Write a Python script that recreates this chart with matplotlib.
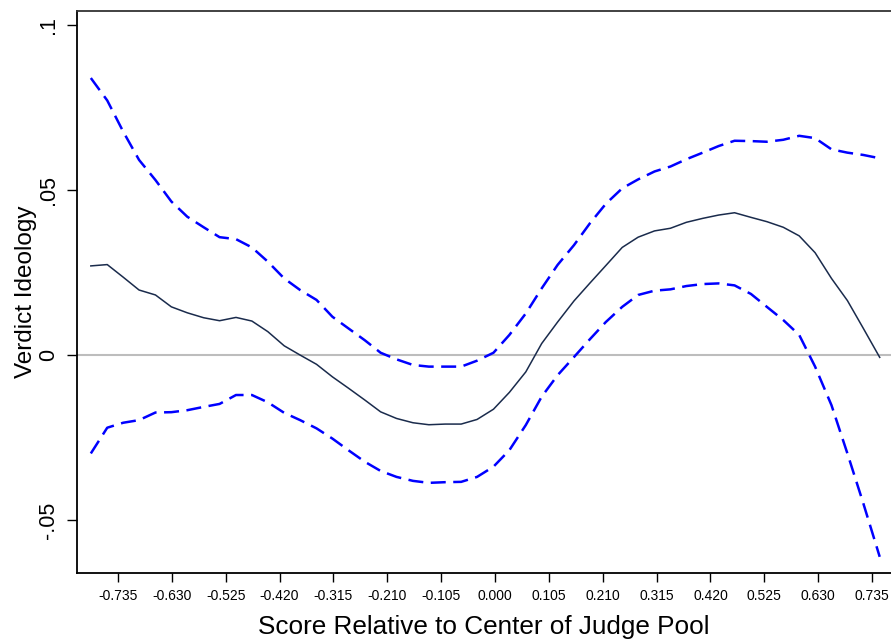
import matplotlib.pyplot as plt

plt.rcParams['font.family'] = ['Liberation Sans', 'DejaVu Sans']

# score grid and estimated effect with its 95% band
score = [-0.788, -0.756, -0.725, -0.694, -0.662, -0.631, -0.600, -0.568, -0.537, -0.505,
         -0.474, -0.443, -0.411, -0.380, -0.348, -0.317, -0.286, -0.254, -0.223, -0.192,
         -0.160, -0.129, -0.097, -0.066, -0.035, -0.003, 0.028, 0.060, 0.091, 0.122,
         0.154, 0.185, 0.216, 0.248, 0.279, 0.311, 0.342, 0.373, 0.405, 0.436,
         0.467, 0.499, 0.530, 0.562, 0.593, 0.624, 0.656, 0.687, 0.718, 0.750]

estimate = [0.0270, 0.0274, 0.0236, 0.0197, 0.0182, 0.0146, 0.0128, 0.0113, 0.0104, 0.0114,
            0.0103, 0.0071, 0.0028, 0.0000, -0.0028, -0.0066, -0.0100, -0.0136, -0.0172, -0.0192,
            -0.0205, -0.0211, -0.0209, -0.0209, -0.0195, -0.0164, -0.0113, -0.0051, 0.0035, 0.0100,
            0.0164, 0.0218, 0.0271, 0.0326, 0.0357, 0.0376, 0.0384, 0.0402, 0.0414, 0.0424,
            0.0431, 0.0417, 0.0404, 0.0387, 0.0361, 0.0310, 0.0232, 0.0165, 0.0081, -0.0007]

upper = [0.0839, 0.0771, 0.0677, 0.0591, 0.0530, 0.0465, 0.0419, 0.0387, 0.0357, 0.0351,
         0.0326, 0.0283, 0.0232, 0.0197, 0.0167, 0.0116, 0.0081, 0.0045, 0.0007, -0.0013,
         -0.0030, -0.0035, -0.0035, -0.0035, -0.0017, 0.0007, 0.0061, 0.0126, 0.0202, 0.0273,
         0.0333, 0.0399, 0.0458, 0.0505, 0.0532, 0.0556, 0.0571, 0.0593, 0.0613, 0.0633,
         0.0649, 0.0648, 0.0646, 0.0652, 0.0664, 0.0657, 0.0623, 0.0613, 0.0606, 0.0596]

lower = [-0.0298, -0.0220, -0.0205, -0.0197, -0.0174, -0.0173, -0.0167, -0.0157, -0.0148, -0.0121,
         -0.0121, -0.0143, -0.0175, -0.0197, -0.0222, -0.0253, -0.0288, -0.0323, -0.0351, -0.0369,
         -0.0381, -0.0387, -0.0385, -0.0384, -0.0369, -0.0338, -0.0288, -0.0212, -0.0126, -0.0061,
         -0.0006, 0.0048, 0.0100, 0.0146, 0.0182, 0.0195, 0.0199, 0.0209, 0.0215, 0.0217,
         0.0211, 0.0185, 0.0146, 0.0106, 0.0061, -0.0035, -0.0152, -0.0298, -0.0449, -0.0611]

xticks = [-0.735, -0.630, -0.525, -0.420, -0.315, -0.210, -0.105, 0.000,
          0.105, 0.210, 0.315, 0.420, 0.525, 0.630, 0.735]
yticks = [-0.05, 0, 0.05, 0.1]
ylabels = ['-.05', '0', '.05', '.1']

fig = plt.figure(figsize=(8.91, 6.39), dpi=100)
ax = fig.add_axes([0.0864, 0.1033, 0.9136, 0.8795])

ax.axhline(0, color='#bdbdbd', lw=1.5, zorder=1)
ax.plot(score, estimate, color='#1a2b4c', lw=1.1, zorder=3)
ax.plot(score, upper, color='#0000ff', lw=1.8, dashes=(6, 3), zorder=2)
ax.plot(score, lower, color='#0000ff', lw=1.8, dashes=(6, 3), zorder=2)

ax.set_xlim(-0.815, 0.772)
ax.set_ylim(-0.066, 0.1042)

ax.set_xticks(xticks)
ax.set_xticklabels([f'{t:.3f}' for t in xticks], fontsize=10)
ax.set_yticks(yticks)
ax.set_yticklabels(ylabels, fontsize=15.5, rotation=90, va='center')
ax.tick_params(axis='x', length=6.5, width=1.0, pad=5)
ax.tick_params(axis='y', length=7, width=1.0, pad=6)

ax.spines['right'].set_visible(False)
ax.spines['top'].set_color('#333333')
for side in ['left', 'bottom', 'top']:
    ax.spines[side].set_linewidth(1.3)

ax.set_xlabel('Score Relative to Center of Judge Pool', fontsize=18.8, labelpad=8.5)
ax.set_ylabel('Verdict Ideology', fontsize=17.5, labelpad=0.5)

fig.savefig('out.png', dpi=100)
